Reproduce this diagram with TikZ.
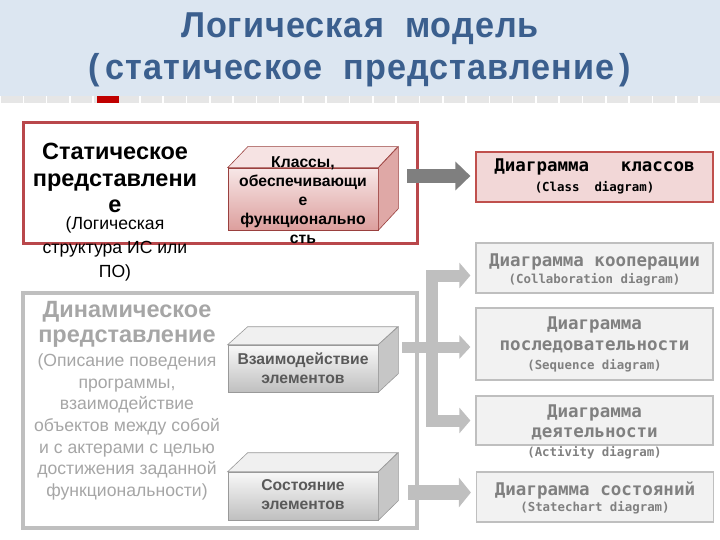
\documentclass[tikz,border=0pt]{standalone}
\usepackage{fontspec}
\setmainfont{Liberation Sans}
\newfontfamily\monof{DejaVu Sans Mono}
\newfontfamily\titlef{Liberation Sans}[LetterSpace=3]
\usetikzlibrary{arrows.meta,calc,shadows}
\definecolor{hdr}{HTML}{DCE6F1}
\definecolor{ttl}{HTML}{3B5F8E}
\definecolor{stripc}{HTML}{E6E6E6}
\definecolor{stripr}{HTML}{C00000}
\definecolor{redb}{HTML}{B9474B}
\definecolor{greyb}{HTML}{BFBFBF}
\definecolor{greyt}{HTML}{A6A6A6}
\definecolor{darkt}{HTML}{595959}
\definecolor{midt}{HTML}{808080}
\definecolor{pinkf}{HTML}{F2D7D7}
\definecolor{pinkb}{HTML}{C0504D}
\definecolor{lgf}{HTML}{F2F2F2}
\definecolor{darkarr}{HTML}{7F7F7F}
\begin{document}
\begin{tikzpicture}[x=1pt,y=-1pt,
  titletext/.style={font=\fontsize{36}{40}\titlef\bfseries, text=ttl, inner sep=0pt, anchor=base},
  statbox/.style={draw=redb, line width=3pt, fill=white, minimum width=394pt, minimum height=120pt, inner sep=0pt, drop shadow={opacity=0.25, shadow xshift=2pt, shadow yshift=-2pt}},
  dynbox/.style={draw=greyb, line width=4pt, fill=white, minimum width=394pt, minimum height=235pt, inner sep=0pt, drop shadow={opacity=0.2, shadow xshift=2pt, shadow yshift=-2pt}},
  pinkface/.style={draw=pinkb!80!black, line width=0.6pt, top color=pinkf!60!white, bottom color=pinkb!55!white, minimum width=150pt, inner sep=0pt},
  greyface/.style={draw=gray!80, line width=0.6pt, top color=white!95!gray, bottom color=gray!50, minimum width=150pt, inner sep=0pt},
  boldline/.style={font=\fontsize{23.5}{26.5}\selectfont\bfseries, align=center, inner sep=0pt},
  normline/.style={font=\fontsize{17.6}{24}\selectfont, align=center, inner sep=0pt},
  cubetext/.style={font=\fontsize{15.7}{19}\selectfont\bfseries, align=center, inner sep=0pt},
  diagbox/.style={minimum width=237pt, inner sep=0pt, line width=1.2pt},
  redbox/.style={diagbox, draw=pinkb, fill=pinkf},
  greybox/.style={diagbox, draw=greyb, fill=lgf},
  rutext/.style={font=\fontsize{17.5}{20}\monof\bfseries, inner sep=0pt},
  entext/.style={font=\fontsize{12.4}{14}\monof\bfseries, inner sep=0pt},
  darkarrow/.style={draw=darkarr, line width=14pt, -{Triangle[length=15pt,width=28pt]}, shorten >=5pt},
  lightarrow/.style={draw=greyb, line width=11pt, -{Triangle[length=11pt,width=23pt]}, shorten >=5pt},
]
\useasboundingbox (0,0) rectangle (720,540);
% header
\fill[hdr] (0,0) rectangle (720,96);
\foreach \i in {0,...,30} \fill[stripc] ({\i*23.3+0.8},96) rectangle ++(21.7,7);
\fill[stripr] (97,96) rectangle (119,103);
\node[titletext] (t1) at (360,38) {\scalebox{0.95}[1]{Логическая\ \ модель}};
\node[titletext] (t2) at (360,80) {\scalebox{0.95}[1]{(\,статическое\ \ представление\,)}};

% main frames
\node[statbox] (stat) at (220,183) {};
\node[dynbox] (dyn) at (220,410.5) {};

% static text
\node[boldline] (st1) at (115,178) {Статическое\\представлени\\е};
\node[normline] (st2) at (115,249) {(Логическая\\структура ИС или\\ПО)};

% dynamic text
\node[boldline, text=greyt, font=\fontsize{23.5}{25}\selectfont\bfseries] (dy1) at (127,324.5) {Динамическое\\представление};
\node[normline, text=greyt, font=\fontsize{17.6}{21.7}\selectfont] (dy2) at (127,427) {(Описание поведения\\программы,\\взаимодействие\\объектов между собой\\и с актерами с целью\\достижения заданной\\функциональности)};

% cube 1 (classes)
\node[pinkface, minimum height=62pt] (c1) at (303,199) {};
\filldraw[draw=pinkb!80!black, line width=0.6pt, fill=pinkf!70!white] (c1.north west) -- ++(20,-21) -- ++(150,0) -- (c1.north east) -- cycle;
\filldraw[draw=pinkb!80!black, line width=0.6pt, fill=pinkb!50!white] (c1.north east) -- ++(20,-21) -- ++(0,62) -- (c1.south east) -- cycle;
\begin{scope}
\clip (0,0) rectangle (720,243);
\node[cubetext] (c1t) at (303,200.5) {Классы,\\обеспечивающи\\е\\функционально\\сть};
\end{scope}

% cube 2
\node[greyface, minimum height=47pt] (c2) at (303,368.5) {};
\filldraw[draw=gray!80, line width=0.6pt, fill=gray!12] (c2.north west) -- ++(20,-18) -- ++(150,0) -- (c2.north east) -- cycle;
\filldraw[draw=gray!80, line width=0.6pt, fill=gray!45] (c2.north east) -- ++(20,-18) -- ++(0,47) -- (c2.south east) -- cycle;
\node[cubetext, text=darkt] (c2t) at (303,368) {Взаимодействие\\элементов};

% cube 3
\node[greyface, minimum height=48pt] (c3) at (303,496) {};
\filldraw[draw=gray!80, line width=0.6pt, fill=gray!12] (c3.north west) -- ++(20,-19) -- ++(150,0) -- (c3.north east) -- cycle;
\filldraw[draw=gray!80, line width=0.6pt, fill=gray!45] (c3.north east) -- ++(20,-19) -- ++(0,48) -- (c3.south east) -- cycle;
\node[cubetext, text=darkt] (c3t) at (303,495) {Состояние\\элементов};

% diagram boxes
\node[redbox, minimum height=50pt] (cls) at (594.5,177) {};
\node[rutext] (clsA) at (594.5,167) {Диаграмма\ \ \ классов};
\node[entext] (clsB) at (594.5,188) {(Class\ \ diagram)};

\node[greybox, minimum height=50pt] (col) at (594.5,268) {};
\node[rutext, text=midt] (colA) at (594.5,262) {Диаграмма кооперации};
\node[entext, text=midt] (colB) at (594.5,280) {(Collaboration diagram)};

\node[greybox, minimum height=72pt] (seq) at (594.5,344) {};
\node[rutext, text=midt] (seqA) at (594.5,325) {Диаграмма};
\node[rutext, text=midt] (seqB) at (594.5,347) {последовательности};
\node[entext, text=midt] (seqC) at (594.5,366) {(Sequence diagram)};

\node[greybox, minimum height=49pt] (act) at (594.5,420.5) {};
\node[rutext, text=midt] (actA) at (594.5,413) {Диаграмма};
\node[rutext, text=midt] (actB) at (594.5,434) {деятельности};
\node[entext, text=midt] (actC) at (594.5,453) {(Activity diagram)};

\node[greybox, minimum height=50pt] (sta) at (595,497) {};
\node[rutext, text=midt] (staA) at (595,490) {Диаграмма состояний};
\node[entext, text=midt] (staB) at (595,508) {(Statechart diagram)};

% arrows
\coordinate (a1) at (407,176);
\draw[darkarrow] (a1) -- (cls.west |- a1);

\coordinate (b1) at (431.5,275.5);
\coordinate (b2) at (431.5,420.5);
\draw[draw=greyb, line width=12pt, line join=miter, {Triangle[length=11pt,width=25pt]}-{Triangle[length=11pt,width=25pt]}, shorten <=5pt, shorten >=5pt] (col.west |- b1) -- (b1) -- (b2) -- (act.west |- b2);

\coordinate (m0) at (402,347);
\draw[lightarrow] (m0) -- (seq.west |- m0);

\coordinate (s0) at (408,492.5);
\draw[lightarrow, line width=15pt, -{Triangle[length=12pt,width=29pt]}] (s0) -- (sta.west |- s0);
\end{tikzpicture}
\end{document}
